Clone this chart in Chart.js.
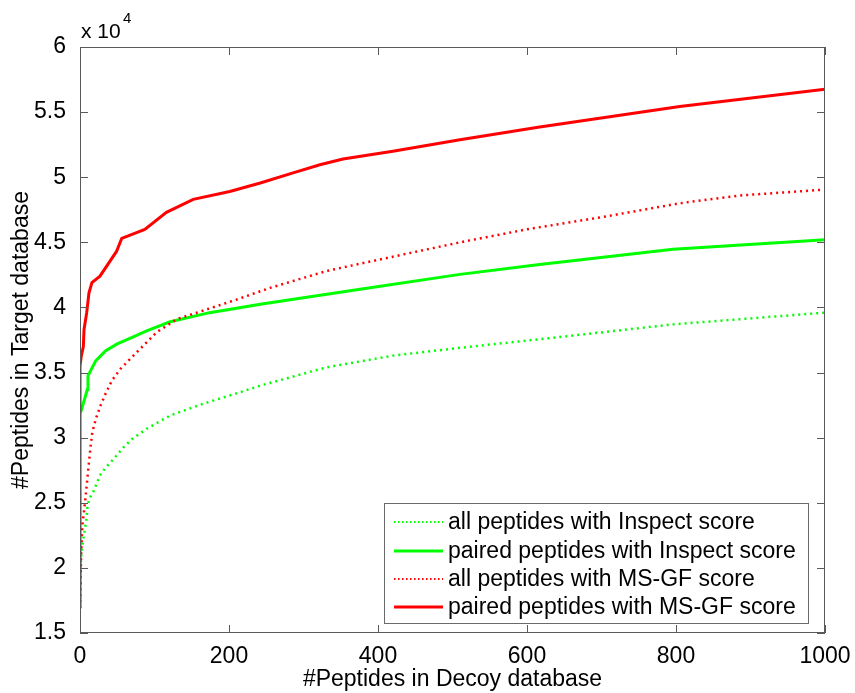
<!DOCTYPE html>
<html>
<head>
<meta charset="utf-8">
<script src="https://cdn.jsdelivr.net/npm/chart.js@4.4.1/dist/chart.umd.min.js"></script>
<style>
  html, body { margin: 0; padding: 0; background: #fff; }
  #wrap { width: 855px; height: 693px; }
</style>
</head>
<body>
<div id="wrap"><canvas id="myChart" width="855" height="693"></canvas></div>
<script>
// tick labels
const xTickVals = [0, 200, 400, 600, 800, 1000];
const yTickVals = [15000, 20000, 25000, 30000, 35000, 40000, 45000, 50000, 55000, 60000];

// all peptides with Inspect score (green dotted)
const inspectAllX = [0, 2, 4.5, 6.7, 9, 10, 13.4, 18.8, 23, 27.8, 34.5, 45.6, 59, 70, 90, 121, 165, 210, 242, 331, 420, 510, 617, 796, 1000];
const inspectAllY = [19500, 21200, 22250, 23000, 23900, 24800, 25400, 25950, 26600, 27200, 27700, 28400, 29300, 29900, 30700, 31700, 32600, 33400, 34000, 35400, 36300, 36900, 37560, 38700, 39600];

// paired peptides with Inspect score (green solid)
const inspectPairX = [0, 1.8, 9.8, 10.7, 21, 34.5, 50, 70, 89.5, 121, 174, 242, 376, 510, 617, 796, 1000];
const inspectPairY = [31900, 32100, 33700, 34750, 35900, 36670, 37200, 37700, 38200, 38900, 39600, 40250, 41400, 42540, 43300, 44460, 45200];

// all peptides with MS-GF score (red dotted)
const msgfAllX = [0, 1.5, 3, 6.7, 12, 14.4, 16.5, 21, 27.8, 34.5, 43, 54.6, 70, 103, 130, 210, 255, 331, 420, 510, 600, 707, 805, 886, 1000];
const msgfAllY = [16900, 21000, 23200, 25000, 28100, 29400, 30400, 31400, 32500, 33400, 34400, 35300, 36200, 38100, 39100, 40600, 41500, 42800, 43900, 45000, 46000, 47000, 48000, 48600, 49050];

// paired peptides with MS-GF score (red solid)
const msgfPairX = [0, 0, 1.8, 4.5, 5.4, 9, 12, 16, 26.8, 49, 56, 87, 116, 152, 201, 242, 286, 322, 353, 420, 510, 617, 805, 1000];
const msgfPairY = [16900, 35500, 36300, 37000, 38300, 39600, 41100, 41900, 42400, 44300, 45300, 46000, 47300, 48300, 48900, 49560, 50330, 50960, 51400, 52000, 52880, 53850, 55430, 56760];

const seriesNames = [
  'all peptides with Inspect score',
  'paired peptides with Inspect score',
  'all peptides with MS-GF score',
  'paired peptides with MS-GF score'
];

function pts(xs, ys) {
  return xs.map((x, i) => ({ x: x, y: ys[i] }));
}

const FONT = "'Liberation Sans', Arial, sans-serif";

const frameAndLegend = {
  id: 'frameAndLegend',
  afterDraw(chart) {
    const ctx = chart.ctx;
    const a = chart.chartArea;
    const xs = chart.scales.x, ys = chart.scales.y;
    ctx.save();
    ctx.strokeStyle = '#5a5a5a';
    ctx.lineWidth = 1;
    ctx.strokeRect(a.left + 0.5, a.top + 0.5, a.right - a.left - 1, a.bottom - a.top - 1);
    const tl = 8;
    ctx.beginPath();
    xTickVals.forEach(v => {
      const px = Math.round(xs.getPixelForValue(v)) + 0.5;
      ctx.moveTo(px, a.bottom); ctx.lineTo(px, a.bottom - tl);
      ctx.moveTo(px, a.top); ctx.lineTo(px, a.top + tl);
    });
    yTickVals.forEach(v => {
      const py = Math.round(ys.getPixelForValue(v)) + 0.5;
      ctx.moveTo(a.left, py); ctx.lineTo(a.left + tl, py);
      ctx.moveTo(a.right, py); ctx.lineTo(a.right - tl, py);
    });
    ctx.stroke();

    // exponent label
    ctx.fillStyle = '#000';
    ctx.textBaseline = 'alphabetic';
    ctx.textAlign = 'left';
    ctx.font = '21px ' + FONT;
    ctx.fillText('x 10', a.left + 1, a.top - 9);
    ctx.font = '15px ' + FONT;
    ctx.fillText('4', a.left + 43, a.top - 24);

    // legend
    const bx = 384, by = 503, bw = 424, bh = 120;
    ctx.fillStyle = '#fff';
    ctx.fillRect(bx, by, bw, bh);
    ctx.strokeStyle = '#6a6a6a';
    ctx.strokeRect(bx + 0.5, by + 0.5, bw, bh);
    const rows = [522, 551, 579, 607];
    chart.data.datasets.forEach((ds, i) => {
      const y = rows[i];
      ctx.beginPath();
      ctx.strokeStyle = ds.borderColor;
      ctx.lineWidth = ds.borderDash.length ? 2 : 3;
      ctx.setLineDash(ds.borderDash.length ? [1.5, 2.5] : []);
      ctx.moveTo(394, y); ctx.lineTo(443, y);
      ctx.stroke();
      ctx.setLineDash([]);
      ctx.fillStyle = '#000';
      ctx.font = '23px ' + FONT;
      ctx.textBaseline = 'middle';
      ctx.fillText(ds.label, 448, y + 1);
    });
    ctx.restore();
  }
};

let myChart = document.getElementById('myChart').getContext('2d');

let peptideChart = new Chart(myChart, {
  type: 'line',
  data: {
    datasets: [
      { label: seriesNames[0], data: pts(inspectAllX, inspectAllY), borderColor: '#00ff00', borderWidth: 2.5, borderDash: [2, 4], order: 4 },
      { label: seriesNames[1], data: pts(inspectPairX, inspectPairY), borderColor: '#00ff00', borderWidth: 3, borderDash: [], order: 3 },
      { label: seriesNames[2], data: pts(msgfAllX, msgfAllY), borderColor: '#ff0000', borderWidth: 2.5, borderDash: [2, 4], order: 2 },
      { label: seriesNames[3], data: pts(msgfPairX, msgfPairY), borderColor: '#ff0000', borderWidth: 3, borderDash: [], order: 1 }
    ]
  },
  options: {
    responsive: false,
    animation: false,
    layout: { padding: { left: 0, top: 47, right: 30, bottom: 0 } },
    elements: { point: { radius: 0 }, line: { tension: 0, fill: false } },
    plugins: { legend: { display: false }, tooltip: { enabled: false } },
    scales: {
      x: {
        type: 'linear', min: 0, max: 1000,
        grid: { display: false }, border: { display: false },
        afterBuildTicks: s => { s.ticks = xTickVals.map(v => ({ value: v })); },
        ticks: { color: '#000', padding: 2, maxRotation: 0, font: { family: FONT, size: 23 }, callback: v => String(v) },
        title: { display: true, text: '#Peptides in Decoy database', color: '#000', padding: { top: 0, bottom: 0 }, font: { family: FONT, size: 23 } },
        afterFit: s => { s.height = 60; }
      },
      y: {
        type: 'linear', min: 15000, max: 60000,
        grid: { display: false }, border: { display: false },
        afterBuildTicks: s => { s.ticks = yTickVals.map(v => ({ value: v })); },
        ticks: { color: '#000', padding: 6, font: { family: FONT, size: 23 }, callback: v => String(v / 10000) },
        title: { display: true, text: '#Peptides in Target database', color: '#000', padding: { top: 8, bottom: 0 }, font: { family: FONT, size: 23 } },
        afterFit: s => { s.width = 80; }
      }
    }
  },
  plugins: [frameAndLegend]
});
</script>
</body>
</html>
